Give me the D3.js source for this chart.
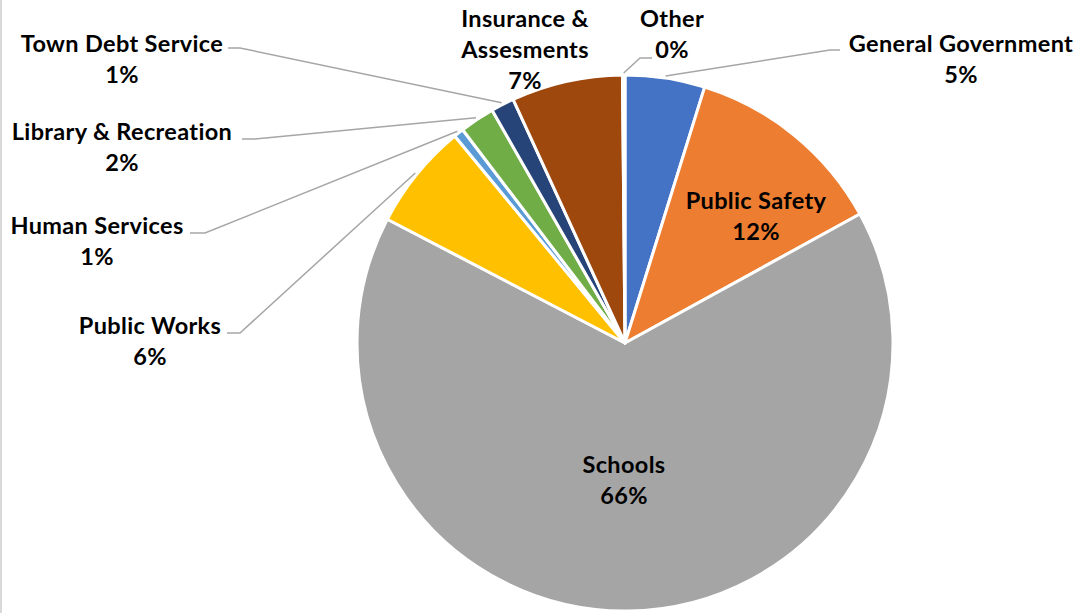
<!DOCTYPE html>
<html>
<head>
<meta charset="utf-8">
<script src="https://cdn.jsdelivr.net/npm/d3@7"></script>
<style>
  body { margin: 0; background: #fff; }
  svg { display: block; }
  .lbl { font-family: Lato, "Open Sans", sans-serif; font-weight: 700; font-size: 23.5px; letter-spacing: 0.35px; fill: #000; }
</style>
</head>
<body>
<svg id="chart" width="1084" height="613"></svg>
<script>
// budget shares, clockwise from 12 o'clock
let categories = ['General Government', 'Public Safety', 'Schools', 'Public Works',
  'Human Services', 'Library & Recreation', 'Town Debt Service', 'Insurance & Assesments', 'Other'];
let shares = [4.8, 12.2, 65.6, 6.4, 0.6, 2.1, 1.4, 6.7, 0.15];
let pct_labels = ['5%', '12%', '66%', '6%', '1%', '2%', '1%', '7%', '0%'];
let slice_colors = ['#4472c4', '#ed7d31', '#a5a5a5', '#ffc000', '#5b9bd5', '#70ad47', '#264478', '#9e480e', '#636363'];

let width = 1084, height = 613;
let cx = 625, cy = 343, radius = 268;

// label placement: center x, baseline of first line, leader elbow
let label_layout = {
  'General Government':    {x: 961, y: 52, lines: ['General Government'], elbow: [840, 50, 830, 50]},
  'Public Safety':         {x: 756, y: 209, lines: ['Public Safety']},
  'Schools':               {x: 624, y: 473, lines: ['Schools']},
  'Public Works':          {x: 150, y: 334, lines: ['Public Works'], elbow: [227, 333, 240, 333]},
  'Human Services':        {x: 97, y: 234, lines: ['Human Services'], elbow: [190, 233, 205, 233]},
  'Library & Recreation':  {x: 122, y: 140, lines: ['Library & Recreation'], elbow: [242, 139, 255, 139]},
  'Town Debt Service':     {x: 122, y: 52, lines: ['Town Debt Service'], elbow: [228, 48, 240, 48]},
  'Insurance & Assesments':{x: 525, y: 27, lines: ['Insurance &', 'Assesments']},
  'Other':                 {x: 672, y: 27, lines: ['Other'], elbow: [652, 58, 640, 58]}
};
let line_h = 31;

let svg = d3.select('#chart');

// faint left border as in the source
svg.append('rect')
  .attr('x', 0).attr('y', 0)
  .attr('width', 2).attr('height', height)
  .attr('fill', '#d9d9d9');

let data = categories.map((c, i) => ({name: c, value: shares[i], pct: pct_labels[i], color: slice_colors[i]}));

let pie = d3.pie()
  .value(d => d.value)
  .sort(null)
  .startAngle(0)
  .endAngle(2 * Math.PI);

let arc = d3.arc()
  .innerRadius(0)
  .outerRadius(radius);

let edge_arc = d3.arc()
  .innerRadius(radius + 2)
  .outerRadius(radius + 2);

let arcs = pie(data);

let g = svg.append('g')
  .attr('transform', `translate(${cx},${cy})`);

g.selectAll('.slice')
  .data(arcs)
  .enter()
  .append('path')
  .attr('class', 'slice')
  .attr('d', arc)
  .attr('fill', d => d.data.color)
  .attr('stroke', '#fff')
  .attr('stroke-width', 3)
  .attr('stroke-linejoin', 'round');

// leader lines
arcs.forEach(d => {
  let lay = label_layout[d.data.name];
  if (!lay.elbow) return;
  let p = edge_arc.centroid(d);
  let e = lay.elbow;
  svg.append('polyline')
    .attr('points', `${e[0]},${e[1]} ${e[2]},${e[3]} ${cx + p[0]},${cy + p[1]}`)
    .attr('fill', 'none')
    .attr('stroke', '#a6a6a6')
    .attr('stroke-width', 1.5);
});

// labels
arcs.forEach(d => {
  let lay = label_layout[d.data.name];
  let t = svg.append('text')
    .attr('class', 'lbl')
    .attr('text-anchor', 'middle');
  let all_lines = lay.lines.concat([d.data.pct]);
  all_lines.forEach((s, i) => {
    t.append('tspan')
      .attr('x', lay.x)
      .attr('y', lay.y + i * line_h)
      .text(s);
  });
});
</script>
</body>
</html>
